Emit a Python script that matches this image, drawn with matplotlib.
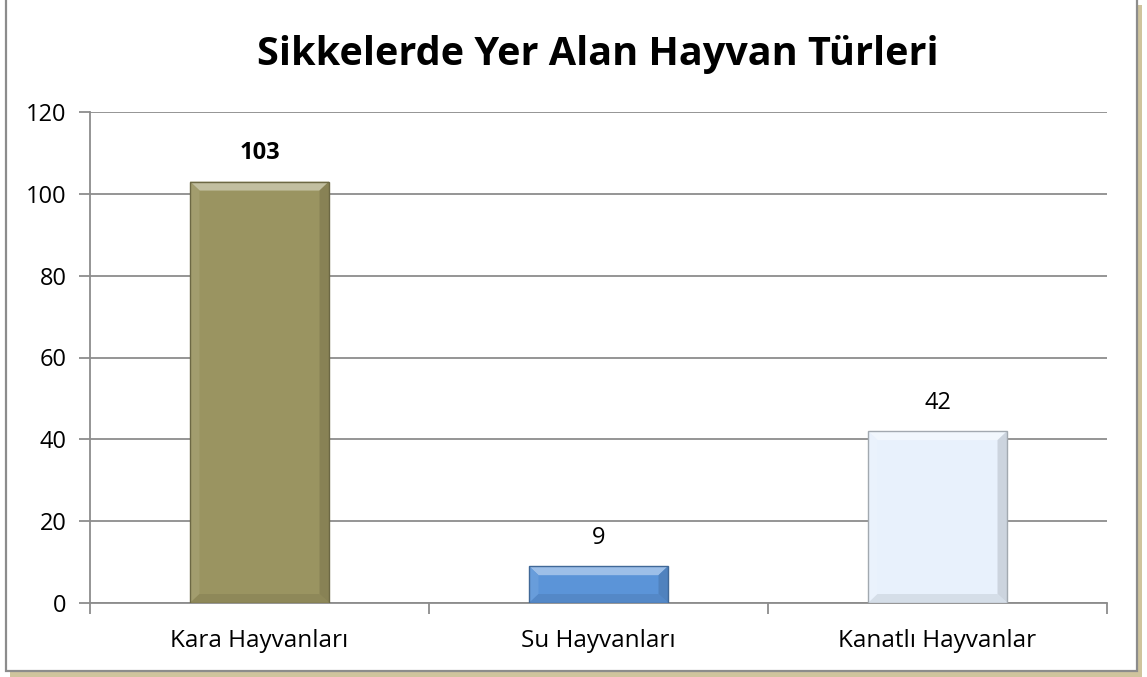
import matplotlib
matplotlib.use("Agg")
import matplotlib.pyplot as plt
from matplotlib.patches import Rectangle, Polygon
import numpy as np

categories = ["Kara Hayvanları", "Su Hayvanları", "Kanatlı Hayvanlar"]
values = [103, 9, 42]
bar_colors = ["#9a9461", "#5b94d8", "#e8f1fc"]
label_bold = [True, False, False]
y_ticks = [0, 20, 40, 60, 80, 100, 120]

plt.rcParams["font.family"] = ["Open Sans", "DejaVu Sans"]

W, H = 1147, 677
fig = plt.figure(figsize=(W / 100, H / 100), dpi=100)
fig.patch.set_facecolor("white")

# frame with soft shadow around the whole chart
fig.patches.append(Rectangle((10 / W, 0 / H), (1142 - 10) / W, (672) / H,
                             transform=fig.transFigure, facecolor="#cfc49d",
                             edgecolor="none", zorder=0))
fig.patches.append(Rectangle((6 / W, 6 / H), (1137 - 6) / W, (700 - 6) / H,
                             transform=fig.transFigure, facecolor="white",
                             edgecolor="#8c8c8c", linewidth=1.6, zorder=1))

ax = fig.add_axes([90 / W, (H - 603) / H, (1107 - 90) / W, (603 - 112) / H])
ax.set_zorder(2)
ax.patch.set_alpha(0)

x = np.arange(len(categories))
width = 0.41
ax.set_xlim(-0.5, len(categories) - 0.5)
ax.set_ylim(0, 120)

ax.set_yticks(y_ticks)
ax.set_yticklabels([str(t) for t in y_ticks], fontsize=17)
ax.yaxis.grid(True, color="#8c8c8c", linewidth=1.3)
ax.set_axisbelow(True)

ax.set_xticks(x)
ax.set_xticklabels(categories, fontsize=17.5)
ax.set_xticks(np.arange(len(categories) + 1) - 0.5, minor=True)
ax.tick_params(axis="x", which="major", length=0, pad=19)
ax.tick_params(axis="x", which="minor", length=8, color="#8c8c8c", width=1.3)
ax.tick_params(axis="y", length=8, color="#8c8c8c", width=1.3, pad=9)

for s in ["top", "right"]:
    ax.spines[s].set_visible(False)
for s in ["left", "bottom"]:
    ax.spines[s].set_color("#8c8c8c")
    ax.spines[s].set_linewidth(1.3)


def shade(c, f):
    rgb = np.array(matplotlib.colors.to_rgb(c))
    if f >= 0:
        return tuple(rgb + (1 - rgb) * f)
    return tuple(rgb * (1 + f))


# bevel depth: horizontal in data units, vertical converted from pixels
bx = 0.028
by_px = 9
to_data_y = 120 / (603 - 112)
by = by_px * to_data_y

ax.bar(x, values, width=width, color=bar_colors, edgecolor="none", zorder=3)
for xi, v, c in zip(x, values, bar_colors):
    l, r = xi - width / 2, xi + width / 2
    d = min(by, v / 3)
    # top highlight
    ax.add_patch(Polygon([(l, v), (r, v), (r - bx, v - d), (l + bx, v - d)],
                         facecolor=shade(c, 0.4), edgecolor="none", zorder=4))
    # right side darker
    ax.add_patch(Polygon([(r, v), (r, 0), (r - bx, d), (r - bx, v - d)],
                         facecolor=shade(c, -0.12), edgecolor="none", zorder=4))
    # left side slightly lighter
    ax.add_patch(Polygon([(l, v), (l, 0), (l + bx, d), (l + bx, v - d)],
                         facecolor=shade(c, 0.08), edgecolor="none", zorder=4))
    # bottom darker
    ax.add_patch(Polygon([(l, 0), (r, 0), (r - bx, d), (l + bx, d)],
                         facecolor=shade(c, -0.08), edgecolor="none", zorder=4))
    ax.add_patch(Rectangle((l, 0), width, v, facecolor="none",
                           edgecolor=shade(c, -0.3), linewidth=1.0, zorder=5))

for xi, v, b in zip(x, values, label_bold):
    ax.annotate(str(v), (xi, v), xytext=(0, 20.5), textcoords="offset points",
                ha="center", va="center", fontsize=17,
                fontweight="bold" if b else "normal", color="black")

fig.text(598 / W, (H - 54) / H, "Sikkelerde Yer Alan Hayvan Türleri",
         ha="center", va="center", fontsize=28.5, fontweight="bold")

fig.savefig("out.png", dpi=100)
